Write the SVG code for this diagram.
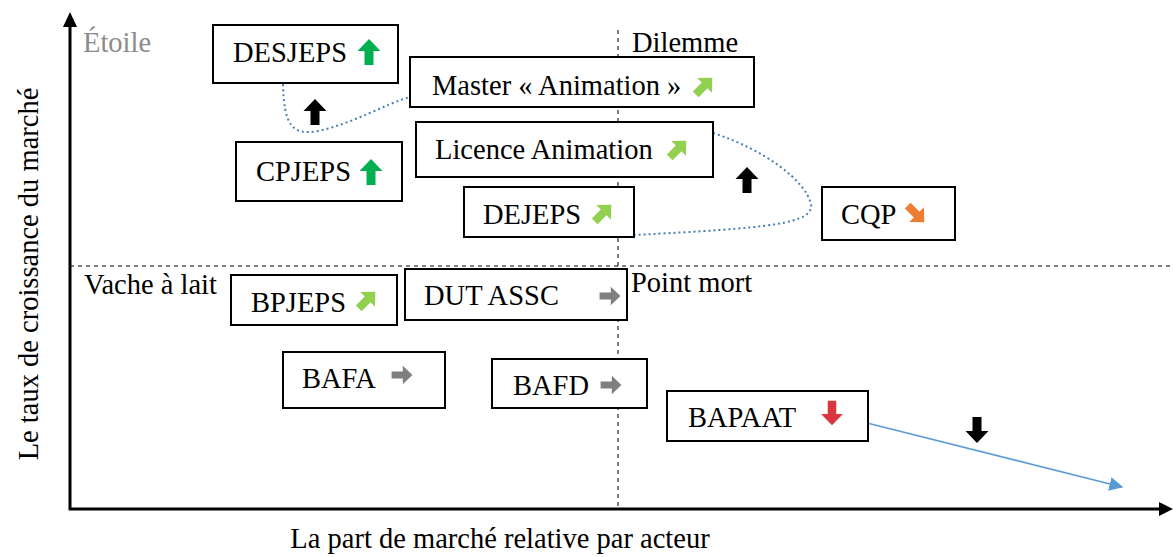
<svg xmlns="http://www.w3.org/2000/svg" xmlns:xlink="http://www.w3.org/1999/xlink" width="1173" height="557" viewBox="0 0 1173 557" font-family="'Liberation Serif', 'Times New Roman', serif" font-size="28.5">
<style>
.box{fill:#fff;stroke:#000;stroke-width:2}
.dash{stroke:#000;stroke-width:1;stroke-dasharray:4 4;fill:none}
.dot{fill:none;stroke:#4a7eb5;stroke-width:2;stroke-dasharray:2 3}
.axis{stroke:#000;stroke-width:3;fill:none}
.up{fill:#00b050}.lg{fill:#92d050}.gr{fill:#7f7f7f}.or{fill:#ed7d31}.rd{fill:#d9363e}.bk{fill:#000}
</style>
<defs>
<path id="arr" d="M0,-13 L11.5,-1 L4.5,-1 L4.5,13 L-4.5,13 L-4.5,-1 L-11.5,-1 Z"/>
<marker id="tri" viewBox="0 0 10 10" refX="9" refY="5" markerWidth="14" markerHeight="14" markerUnits="userSpaceOnUse" orient="auto">
<path d="M0,0 L10,5 L0,10 Z" fill="#5b9bd5"/>
</marker>
</defs>

<g id="grid">
<line class="dash" x1="618" y1="30" x2="618" y2="508"/>
<line class="dash" x1="70" y1="266" x2="1170" y2="266"/>
</g>

<g id="axes">
<line class="axis" x1="70" y1="510" x2="70" y2="24"/>
<path d="M63,27 L70,12 L77,27 Z" fill="#000"/>
<line class="axis" x1="69" y1="509" x2="1162" y2="509"/>
<path d="M1159,502 L1173,509 L1159,516 Z" fill="#000"/>
<text transform="translate(38,274) rotate(-90)" text-anchor="middle">Le taux de croissance du marché</text>
<text x="500" y="548" text-anchor="middle">La part de marché relative par acteur</text>
</g>

<g id="quadrants">
<text x="83" y="52" fill="#8c8c8c">Étoile</text>
<text x="632" y="52">Dilemme</text>
<text x="84" y="294">Vache à lait</text>
<text x="631" y="292">Point mort</text>
</g>

<g id="connectors">
<path class="dot" d="M283,84 C284,125 292,136 318,131 C352,124 385,104 410,97"/>
<path class="dot" d="M713,133 C765,150 805,180 811,204 C814,224 770,228 634,235"/>
<line x1="867" y1="423" x2="1122" y2="487" stroke="#5b9bd5" stroke-width="1.5" marker-end="url(#tri)"/>
<use xlink:href="#arr" class="bk" transform="translate(315,112)"/>
<use xlink:href="#arr" class="bk" transform="translate(747,180)"/>
<use xlink:href="#arr" class="bk" transform="translate(977,430) rotate(180)"/>
</g>

<g id="n-desjeps">
<rect class="box" x="213" y="25" width="185" height="58"/>
<text x="233" y="62">DESJEPS</text>
<use xlink:href="#arr" class="up" transform="translate(369,52)"/>
</g>

<g id="n-master">
<rect class="box" x="410" y="57" width="344" height="50"/>
<text x="432" y="95">Master « Animation »</text>
<use xlink:href="#arr" class="lg" transform="translate(704,86) rotate(45) scale(0.9)"/>
</g>

<g id="n-cpjeps">
<rect class="box" x="236" y="142" width="166" height="59"/>
<text x="256" y="181">CPJEPS</text>
<use xlink:href="#arr" class="up" transform="translate(371,172)"/>
</g>

<g id="n-licence">
<rect class="box" x="416" y="122" width="297" height="55"/>
<text x="435" y="159">Licence Animation</text>
<use xlink:href="#arr" class="lg" transform="translate(678,149) rotate(45) scale(0.9)"/>
</g>

<g id="n-dejeps">
<rect class="box" x="464" y="187" width="170" height="50"/>
<text x="483" y="224">DEJEPS</text>
<use xlink:href="#arr" class="lg" transform="translate(603,213) rotate(45) scale(0.9)"/>
</g>

<g id="n-cqp">
<rect class="box" x="822" y="187" width="133" height="53"/>
<text x="841" y="224">CQP</text>
<use xlink:href="#arr" class="or" transform="translate(916,214) rotate(135) scale(0.9)"/>
</g>

<g id="n-bpjeps">
<rect class="box" x="231" y="275" width="166" height="50"/>
<text x="251" y="312">BPJEPS</text>
<use xlink:href="#arr" class="lg" transform="translate(367,300) rotate(45) scale(0.9)"/>
</g>

<g id="n-dut">
<rect class="box" x="405" y="269" width="222" height="51"/>
<text x="424" y="305">DUT ASSC</text>
<use xlink:href="#arr" class="gr" transform="translate(610,296) rotate(90) scale(0.8)"/>
</g>

<g id="n-bafa">
<rect class="box" x="283" y="352" width="162" height="56"/>
<text x="302" y="388">BAFA</text>
<use xlink:href="#arr" class="gr" transform="translate(402,375) rotate(90) scale(0.8)"/>
</g>

<g id="n-bafd">
<rect class="box" x="492" y="359" width="155" height="49"/>
<text x="513" y="395">BAFD</text>
<use xlink:href="#arr" class="gr" transform="translate(611,385) rotate(90) scale(0.8)"/>
</g>

<g id="n-bapaat">
<rect class="box" x="667" y="391" width="201" height="50"/>
<text x="688" y="427">BAPAAT</text>
<use xlink:href="#arr" class="rd" transform="translate(832,413) rotate(180) scale(0.95)"/>
</g>
</svg>
